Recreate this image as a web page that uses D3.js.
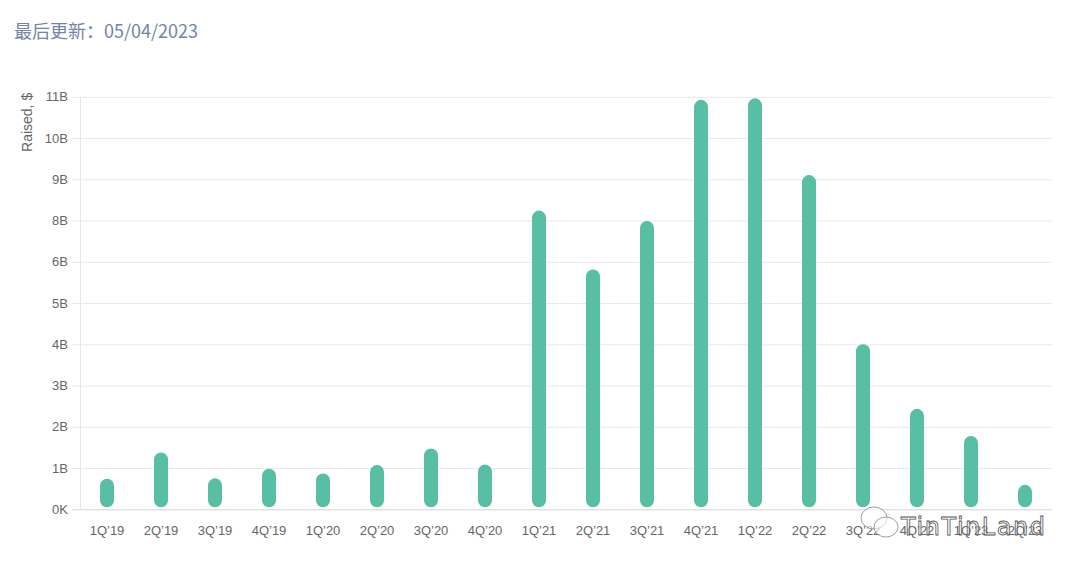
<!DOCTYPE html>
<html>
<head>
<meta charset="utf-8">
<script src="https://cdn.jsdelivr.net/npm/d3@7"></script>
<style>
  html, body { margin: 0; padding: 0; background: #fff; }
  svg { display: block; }
</style>
</head>
<body>
<svg id="chart" width="1080" height="570"></svg>
<script>
const titleText = "最后更新：05/04/2023";
const yAxisTitle = "Raised, $";
const categories = ["1Q’19","2Q’19","3Q’19","4Q’19","1Q’20","2Q’20","3Q’20","4Q’20",
  "1Q’21","2Q’21","3Q’21","4Q’21","1Q’22","2Q’22","3Q’22","4Q’22","1Q’23","2Q’23"];
const raised = [0.80e9, 1.49e9, 0.81e9, 1.06e9, 0.94e9, 1.16e9, 1.59e9, 1.17e9,
  7.82e9, 6.28e9, 7.55e9, 10.72e9, 10.76e9, 8.75e9, 4.32e9, 2.63e9, 1.92e9, 0.64e9];
const tickValues = [0, 1.08e9, 2.16e9, 3.24e9, 4.32e9, 5.4e9, 6.48e9, 7.56e9, 8.64e9, 9.72e9, 10.8e9];
const tickLabels = ["0K","1B","2B","3B","4B","5B","6B","8B","9B","10B","11B"];
const yMax = 10.8e9;

const svg = d3.select("#chart");
const margin = {left: 80, right: 28, top: 96.8, bottom: 60.7};
const W = 1080, H = 570;
const x = d3.scaleBand().domain(categories).range([margin.left, W - margin.right]).paddingInner(0).paddingOuter(0);
const y = d3.scaleLinear().domain([0, yMax]).range([H - margin.bottom, margin.top]);

const font = "'Liberation Sans', Arial, Helvetica, sans-serif";

// title
svg.append("text")
  .attr("x", 14).attr("y", 38)
  .attr("font-family", "'Noto Sans CJK SC', 'Liberation Sans', sans-serif")
  .attr("font-size", 18)
  .attr("fill", "#7683a8")
  .text(titleText);

// gridlines + y labels
const yAxis = d3.axisLeft(y)
  .tickValues(tickValues)
  .tickSize(-(W - margin.right - margin.left + 8))
  .tickPadding(4)
  .tickFormat((d, i) => tickLabels[i]);
const gy = svg.append("g")
  .attr("transform", `translate(${margin.left - 8},0)`)
  .call(yAxis);
gy.select(".domain").remove();
gy.selectAll(".tick line").attr("stroke", "#e8e8e8").attr("stroke-width", 1)
  .attr("x1", 0).attr("x2", W - margin.right - margin.left + 8);
gy.selectAll(".tick text")
  .attr("font-family", font).attr("font-size", 13).attr("fill", "#666")
  .attr("x", -4);
gy.selectAll(".tick").filter(d => d === 0).select("line").attr("stroke", "#d4d4d4");

// vertical axis line
svg.append("line")
  .attr("x1", margin.left + 0.5).attr("x2", margin.left + 0.5)
  .attr("y1", y(yMax)).attr("y2", y(0))
  .attr("stroke", "#e6e6e6");

// y axis title
svg.append("text")
  .attr("transform", `translate(32, ${y(yMax) - 4}) rotate(-90)`)
  .attr("text-anchor", "end")
  .attr("font-family", font).attr("font-size", 14).attr("fill", "#666")
  .text(yAxisTitle);

// bars
const bw = 14;
svg.append("g").selectAll("rect")
  .data(raised)
  .join("rect")
  .attr("x", (d, i) => x(categories[i]) + x.bandwidth() / 2 - bw / 2)
  .attr("y", d => y(d))
  .attr("width", bw)
  .attr("height", d => y(0) - 2 - y(d))
  .attr("rx", bw / 2).attr("ry", bw / 2)
  .attr("fill", "#58bfa5");

// x labels
const xAxis = d3.axisBottom(x).tickSize(0).tickPadding(16);
const gx = svg.append("g")
  .attr("transform", `translate(0,${y(0)})`)
  .call(xAxis);
gx.select(".domain").remove();
gx.selectAll(".tick text")
  .attr("font-family", font).attr("font-size", 13).attr("fill", "#666");

// watermark (overlay in the reference)
const wm = svg.append("g").attr("fill", "none").attr("stroke", "#888").attr("stroke-width", 0.8);
wm.append("ellipse").attr("cx", 874).attr("cy", 518).attr("rx", 13).attr("ry", 11).attr("fill", "rgba(255,255,255,0.6)");
wm.append("ellipse").attr("cx", 886).attr("cy", 527).attr("rx", 12).attr("ry", 10).attr("fill", "rgba(255,255,255,0.6)");
wm.append("text")
  .attr("x", 901).attr("y", 535)
  .attr("font-family", "'DejaVu Sans', sans-serif").attr("font-size", 24)
  .attr("fill", "rgba(255,255,255,0.5)").attr("stroke", "#555").attr("stroke-width", 0.8)
  .attr("textLength", 144).attr("lengthAdjust", "spacing")
  .text("TinTinLand");
</script>
</body>
</html>
